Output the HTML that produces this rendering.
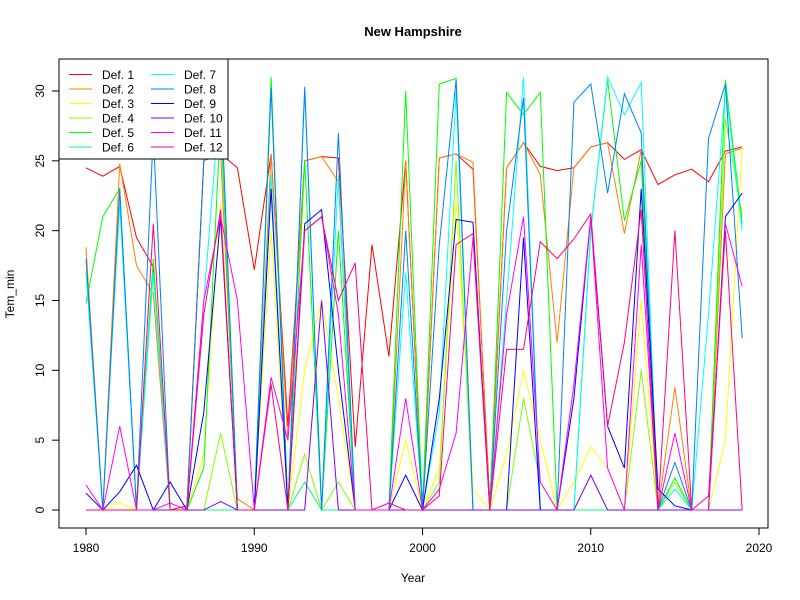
<!DOCTYPE html>
<html><head><meta charset="utf-8"><style>body{margin:0;background:#fff}svg{display:block}</style></head>
<body>
<svg id="chart" width="800" height="600" xmlns="http://www.w3.org/2000/svg" font-family="Liberation Sans, Arial, sans-serif">
<rect width="800" height="600" fill="#fff"/>
<text x="413" y="36" text-anchor="middle" font-weight="bold" font-size="13">New Hampshire</text>
<text x="413" y="582" text-anchor="middle" font-size="12">Year</text>
<text transform="translate(14,294) rotate(-90)" text-anchor="middle" font-size="12">Tem_min</text>
<g id="axes"></g>
<g id="series"></g>
<rect x="59" y="59" width="709" height="469" fill="none" stroke="#000"/>
<g id="legend"></g>
</svg>
<script>
const years = Array.from({length:40},(_,i)=>1980+i);
const xTicks = [1980,1990,2000,2010,2020];
const yTicks = [0,5,10,15,20,25,30];
const seriesNames = ["Def. 1","Def. 2","Def. 3","Def. 4","Def. 5","Def. 6","Def. 7","Def. 8","Def. 9","Def. 10","Def. 11","Def. 12"];
const seriesColors = ["#FF0000","#FF8000","#FFFF00","#80FF00","#00FF00","#00FF80","#00FFFF","#0080FF","#0000FF","#8000FF","#FF00FF","#FF0080"];
const def1 = [24.5,23.9,24.6,19.5,17.4,0,0.3,25,25.5,24.5,17.2,25.5,6,25,25.3,25.2,4.5,19,11,25,0,25.2,25.5,24.4,0.5,24.5,26.3,24.6,24.3,24.5,26,26.3,25.1,25.8,23.3,24,24.4,23.5,25.7,26];
const def2 = [18.8,0,24.8,17.5,15.5,0,0,25,25.5,0.8,0,25.5,5,25,25.3,23.5,0,0,0,25,0,25.2,25.5,24.9,0,24.5,26.3,24,12,24.5,26,26.3,19.8,25.8,0,8.8,0,0,25.5,25.9];
const def3 = [0,0,0.5,0,0,0,0,4,22,0,0,20,0,10,15,8,0,0,0,5,0,3,22,1.5,0,4,10,5,0,2,4.5,3,0,15,0,0,0,0,5,26];
const def4 = [0,0,0,0,0,0,0,0,5.5,0,0,0,0,4,0,2,0,0,0,0,0,2,25,0,0,0,8,2,0,0,2.5,0,0,10,0,2,0,0,28,21];
const def5 = [14.8,21,23,0,18,0,0,3,28,0,0,31,0,25,0,20,0,0,0,30,0,30.5,30.9,0,0,29.9,28.3,29.9,0,0,20,30.8,20.7,25,0,2.3,0,0,30.8,20.5];
const def6 = [0,0,0,0,0,0,0,0,0,0,0,0,0,2,0,0,0,0,0,0,0,0,0,0,0,0,0,0,0,0,0,0,0,0,0,0,0,0,0,0];
const def7 = [17,0,22,0,17,0,0,15,30,0,0,24,0,30,0,24,0,0,0,17,0,7,30,0,0,15,31,0,0,0,20,31,28.3,30.6,0,1.5,0,14,30.3,20];
const def8 = [18,0,23,0,27,0,0,25,30.5,0,0,30.2,0,30.3,0,27,0,0,0,20,0,19,30.8,0,0,20,29.5,0,0,29.2,30.5,22.7,29.8,27,0,3.4,0,26.6,30.5,12.3];
const def9 = [1.2,0,1.3,3.2,0,2,0,7,21,0,0,23,0,20.5,21.5,10,0,0,0,2.5,0,8,20.8,20.6,0,0,19.5,0,0,8,21,6,3,23,1.5,0.3,0,0,21,22.7];
const def10 = [0,0,0,0,0,0,0,0,0.6,0,0,0,0,0,15,0,0,0,0,0,0,0,0,0,0,0,0,0,0,0,2.5,0,0,0,0,0,0,0,0,0];
const def11 = [1.8,0,6,0,0,0.5,0,15,21,15,0,9.5,5,20,21,14,0,0,0,8,0,1.5,5.5,19.5,0,14,21,2,0,9,21,3,0,19,0,5.5,0,0,20.5,16];
const def12 = [0,0,0,0,20.5,0,0,14,21.5,0,0,9,0,20,21,15,17.7,0,0.5,0,0,1,19,19.8,0,11.5,11.5,19.2,18,19.4,21.2,6,12,21.5,0,20,0,1,20,0];
const allSeries = [def1,def2,def3,def4,def5,def6,def7,def8,def9,def10,def11,def12];

const NS="http://www.w3.org/2000/svg";
const xS = yr => 86 + (yr-1980)*(759-86)/40;
const yS = v => 510 - v*(510-91)/30;
function mk(tag, attrs, parent){const e=document.createElementNS(NS,tag);for(const k in attrs)e.setAttribute(k,attrs[k]);parent.appendChild(e);return e;}
const axes=document.getElementById('axes');
mk('line',{x1:xS(1980),x2:xS(2020),y1:528,y2:528,stroke:'#000'},axes);
xTicks.forEach(t=>{
  const l=mk('line',{x1:xS(t),x2:xS(t),y1:528,y2:535,stroke:'#000'},axes);
  
  
  const tx=mk('text',{x:xS(t),y:552,'text-anchor':'middle','font-size':12},axes);
  tx.textContent=t;
  
  
});
mk('line',{x1:59,x2:59,y1:yS(0),y2:yS(30),stroke:'#000'},axes);
yTicks.forEach(t=>{
  const l=mk('line',{x1:52,x2:59,y1:yS(t),y2:yS(t),stroke:'#000'},axes);
  
  
  const tx=mk('text',{transform:`translate(44,${yS(t)}) rotate(-90)`,'text-anchor':'middle','font-size':12},axes);
  tx.textContent=t;
  
  
});
const sg=document.getElementById('series');
allSeries.forEach((vals,i)=>{
  const pts=vals.map((v,j)=>xS(years[j]).toFixed(1)+','+yS(v).toFixed(1)).join(' ');
  const p=mk('polyline',{points:pts,fill:'none',stroke:seriesColors[i],'stroke-width':1},sg);
  
  
});
const lg=document.getElementById('legend');
const box=mk('rect',{x:59,y:59,width:169,height:100,fill:'#fff',stroke:'#000'},lg);


seriesNames.forEach((n,i)=>{
  const col=Math.floor(i/6), row=i%6;
  const y=74.5+row*14.5, x0=col?151:69;
  const g=mk('g',{},lg);
  
  
  mk('line',{x1:x0,x2:x0+23,y1:y,y2:y,stroke:seriesColors[i]},g);
  const t=mk('text',{x:x0+33,y:y+4.5,'font-size':12},g);
  t.textContent=n;
});
</script>
</body></html>
